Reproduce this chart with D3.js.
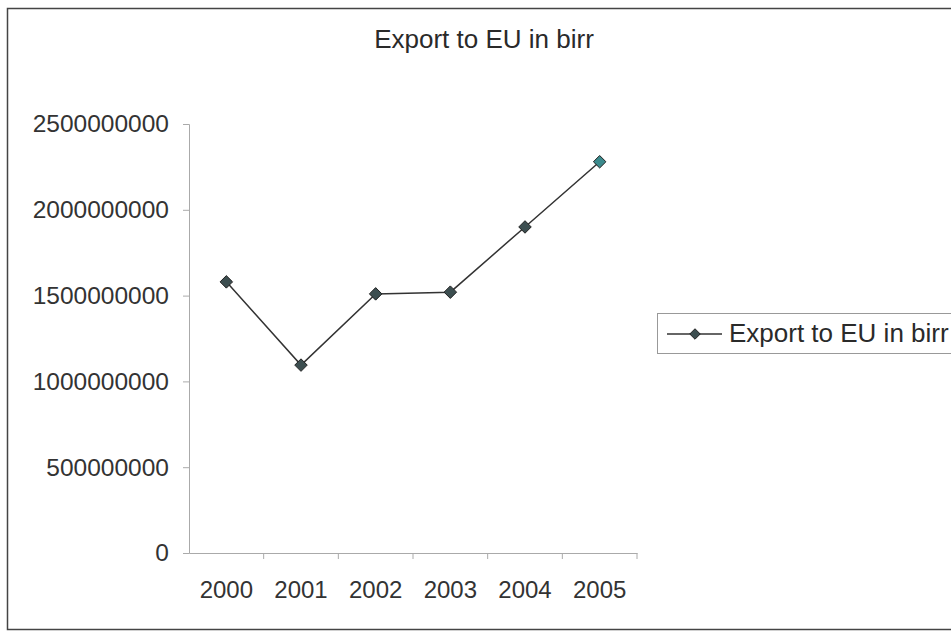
<!DOCTYPE html>
<html>
<head>
<meta charset="utf-8">
<script src="https://cdn.jsdelivr.net/npm/d3@7"></script>
<style>
  html, body { margin: 0; padding: 0; background: #fff; }
  svg { display: block; font-family: "Liberation Sans", Arial, sans-serif; }
</style>
</head>
<body>
<svg id="chart" width="951" height="631"></svg>
<script>
// Export to EU, yearly totals in birr
const years = ["2000", "2001", "2002", "2003", "2004", "2005"];
const exportsBirr = [1580000000, 1095000000, 1510000000, 1520000000, 1900000000, 2280000000];
const yTicks = [0, 500000000, 1000000000, 1500000000, 2000000000, 2500000000];
const chartTitle = "Export to EU in birr";
const seriesName = "Export to EU in birr";

const svg = d3.select("#chart");
const plot = { left: 189, right: 637, top: 124, bottom: 553 };

// Outer chart frame
svg.append("rect")
  .attr("x", 7.5).attr("y", 8.5)
  .attr("width", 960).attr("height", 621)
  .attr("fill", "none").attr("stroke", "#444").attr("stroke-width", 1.5);

// Title
svg.append("text")
  .attr("x", 484).attr("y", 48)
  .attr("text-anchor", "middle")
  .attr("font-size", 26).attr("fill", "#2a2a2a")
  .text(chartTitle);

const x = d3.scaleBand().domain(years).range([plot.left, plot.right]).padding(0);
const y = d3.scaleLinear().domain([0, 2500000000]).range([plot.bottom, plot.top]);

const axisColor = "#aaa";

// Y axis
const yAxis = svg.append("g")
  .attr("transform", `translate(${plot.left},0)`)
  .call(d3.axisLeft(y).tickValues(yTicks).tickFormat(d3.format("d")).tickSize(6).tickPadding(14));
yAxis.select(".domain").attr("stroke", axisColor);
yAxis.selectAll(".tick line").attr("stroke", axisColor);
yAxis.selectAll("text").attr("font-size", 24.5).attr("fill", "#333")
  .attr("font-family", "Liberation Sans, Arial, sans-serif");

// X axis, with ticks on the category boundaries
const xAxis = svg.append("g")
  .attr("transform", `translate(0,${plot.bottom})`)
  .call(d3.axisBottom(x).tickSize(0).tickPadding(28));
xAxis.select(".domain").attr("stroke", axisColor);
xAxis.selectAll("text").attr("font-size", 24).attr("fill", "#333")
  .attr("font-family", "Liberation Sans, Arial, sans-serif");
xAxis.selectAll(".boundary")
  .data(years.map(d => x(d) + x.bandwidth()))
  .enter().append("line")
  .attr("x1", d => d).attr("x2", d => d)
  .attr("y1", 0).attr("y2", 6)
  .attr("stroke", axisColor);

// Series line
const line = d3.line()
  .x((d, i) => x(years[i]) + x.bandwidth() / 2)
  .y(d => y(d));
svg.append("path")
  .datum(exportsBirr)
  .attr("d", line)
  .attr("fill", "none").attr("stroke", "#333").attr("stroke-width", 1.5);

// Diamond markers
const diamond = d3.symbol().type(d3.symbolDiamond2).size(100);
svg.selectAll(".pt")
  .data(exportsBirr)
  .enter().append("path")
  .attr("class", "pt")
  .attr("d", diamond)
  .attr("transform", (d, i) => `translate(${x(years[i]) + x.bandwidth() / 2},${y(d)})`)
  .attr("fill", (d, i) => i === years.length - 1 ? "#3b8a8c" : "#3c4e50")
  .attr("stroke", "#222").attr("stroke-width", 1);

// Legend
const lg = svg.append("g");
lg.append("rect")
  .attr("x", 657.5).attr("y", 313.5)
  .attr("width", 320).attr("height", 40)
  .attr("fill", "#fff").attr("stroke", "#999").attr("stroke-width", 1);
lg.append("line")
  .attr("x1", 667).attr("x2", 722).attr("y1", 334).attr("y2", 334)
  .attr("stroke", "#333").attr("stroke-width", 1.5);
lg.append("path")
  .attr("d", d3.symbol().type(d3.symbolDiamond2).size(70))
  .attr("transform", "translate(695,334)")
  .attr("fill", "#3c4e50").attr("stroke", "#222");
lg.append("text")
  .attr("x", 729).attr("y", 342)
  .attr("font-size", 26).attr("fill", "#2a2a2a")
  .text(seriesName);
</script>
</body>
</html>
